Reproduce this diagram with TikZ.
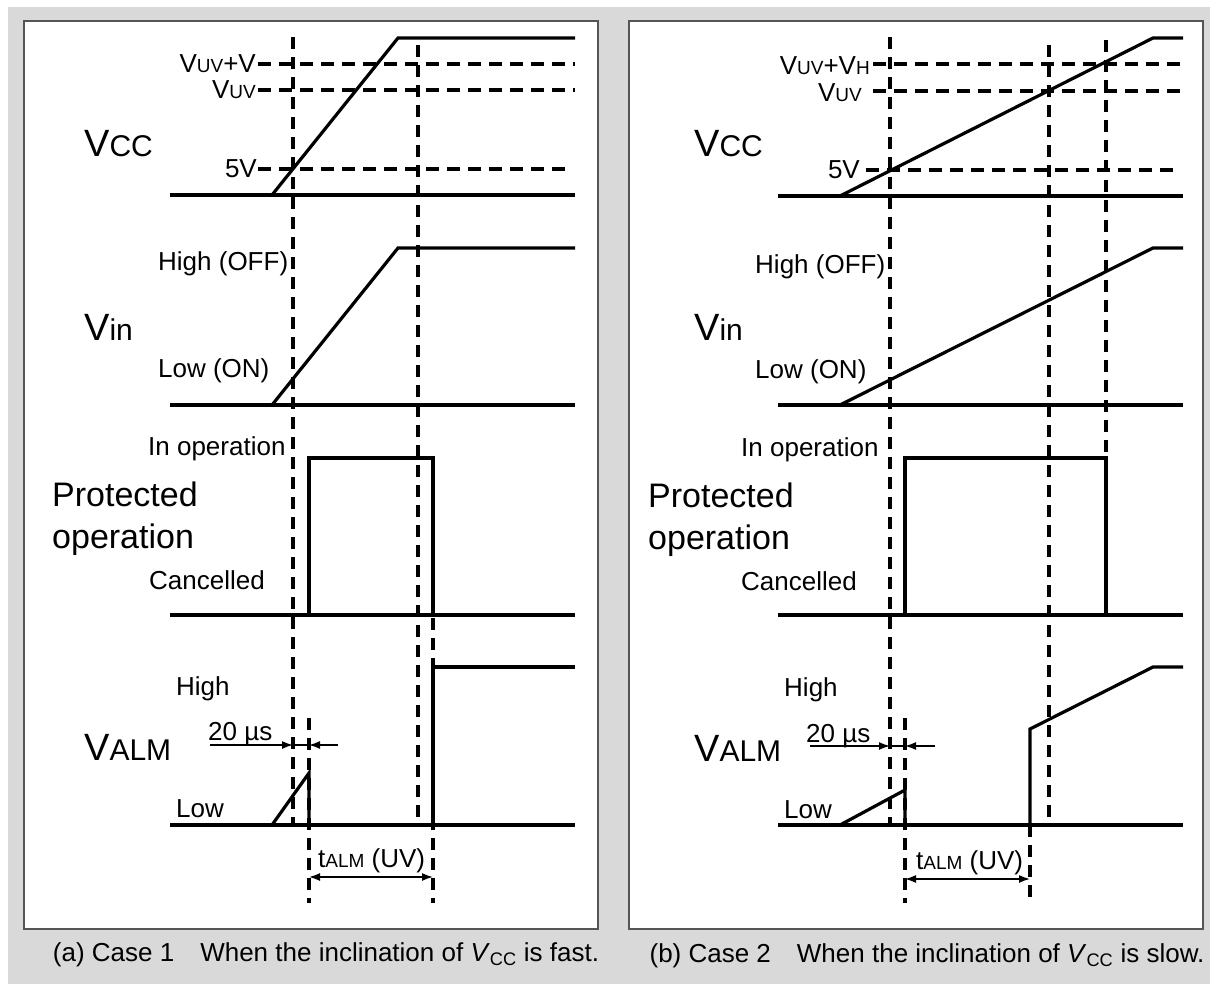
\documentclass[tikz,border=0pt]{standalone}
\usepackage{fontspec}
\setmainfont{Liberation Sans}
\usetikzlibrary{arrows.meta}
\definecolor{bggray}{HTML}{D9D9D9}
\definecolor{framegray}{HTML}{555555}
\newcommand{\smc}[1]{{\fontsize{19}{20}\selectfont #1}}
\newcommand{\bigV}{{\fontsize{38}{40}\selectfont V}}
\newcommand{\bigsm}[1]{{\fontsize{30}{32}\selectfont #1}}
\begin{document}
\begin{tikzpicture}[x=1pt,y=-1pt,
  sig/.style={line width=3.2pt},
  dv/.style={line width=3.8pt, dash pattern=on 12pt off 8pt},
  dh/.style={line width=3.2pt, dash pattern=on 13pt off 8pt},
  panel/.style={draw=framegray, line width=1.5pt, fill=white},
  lbl/.style={inner sep=0pt, font=\fontsize{26}{30}\selectfont},
  captext/.style={inner sep=0pt, font=\fontsize{26}{30}\selectfont},
  big/.style={inner sep=0pt, font=\fontsize{34}{40}\selectfont},
  arr/.style={line width=1.5pt, -{Latex[length=11pt,width=8pt]}},
  arrb/.style={line width=1.5pt, {Latex[length=11pt,width=8pt]}-{Latex[length=11pt,width=8pt]}},
  thin/.style={line width=1.5pt}]
\useasboundingbox (0,0) rectangle (1210,984);
\fill[bggray] (8,7) rectangle (1210,984);
\draw[panel] (24,21) rectangle (598,929);
\draw[panel] (629,21) rectangle (1203,929);

%%%%%%%%%%%%%%%% Panel (a)
% dashed horizontals
\draw[dh] (258,64) -- (575,64);
\draw[dh] (258,90) -- (575,90);
\draw[dh] (258,169) -- (565,169);
% dashed verticals
\draw[dv] (293,37) -- (293,825);
\draw[dv] (418,45) -- (418,825);
\draw[dv] (309,718) -- (309,903);
\draw[dv] (433,458) -- (433,903);
% Vcc
\draw[sig] (170,195) -- (575,195);
\draw[sig] (272,195) -- (398,38) -- (575,38);
% Vin
\draw[sig] (170,405) -- (575,405);
\draw[sig] (272,405) -- (398,248) -- (575,248);
% Protected operation
\draw[sig] (170,615) -- (575,615);
\draw[sig] (309,615) -- (309,458) -- (433,458) -- (433,615);
% VALM
\draw[sig] (170,825) -- (575,825);
\draw[sig] (272,825) -- (309,773) -- (309,825);
\draw[sig] (433,825) -- (433,667) -- (575,667);
% 20 us arrows
\coordinate (a20l) at (293,745);
\coordinate (a20r) at (309,745);
\draw[arr] (210,745) -- (a20l);
\draw[thin] (a20l) -- (a20r);
\draw[arr] (338,745) -- (a20r);
% tALM
\coordinate (atl) at (309,877);
\coordinate (atr) at (433,877);
\draw[arrb] (atl) -- (atr);
% labels
\node[lbl, anchor=base east] (a-vuvh) at (256,73) {V\smc{UV}+V};
\node[lbl, anchor=base east] (a-vuv) at (256,99) {V\smc{UV}};
\node[lbl, anchor=base east] (a-5v) at (257,178) {5V};
\node[big, anchor=base west] (a-vcc) at (84,157) {\bigV\bigsm{CC}};
\node[big, anchor=base west] (a-vin) at (84,340) {\bigV\bigsm{in}};
\node[lbl, anchor=base west] (a-hi) at (158,271) {High (OFF)};
\node[lbl, anchor=base west] (a-lo) at (158,377) {Low (ON)};
\node[lbl, anchor=base west] (a-io) at (148,455) {In operation};
\node[big, anchor=base west] (a-p1) at (52,506) {Protected};
\node[big, anchor=base west] (a-p2) at (52,548) {operation};
\node[lbl, anchor=base west] (a-ca) at (149,589) {Cancelled};
\node[lbl, anchor=base west] (a-ah) at (176,695) {High};
\node[big, anchor=base west] (a-valm) at (84,760) {\bigV\bigsm{ALM}};
\node[lbl, anchor=base west] (a-20) at (208,740) {20 µs};
\node[lbl, anchor=base west] (a-al) at (176,817) {Low};
\node[lbl, anchor=base west] (a-talm) at (318,867) {t\smc{ALM} (UV)};
\node[captext, anchor=base] (a-cap) at (326,961) {(a) Case 1\quad When the inclination of \textit{V}\textsubscript{CC} is fast.};

%%%%%%%%%%%%%%%% Panel (b)
\draw[dh] (873,64) -- (1183,64);
\draw[dh] (873,91) -- (1183,91);
\draw[dh] (866,170) -- (1173,170);
\draw[dv] (890,37) -- (890,825);
\draw[dv] (1049,45) -- (1049,825);
\draw[dv] (1106,40) -- (1106,458);
\draw[dv] (905,718) -- (905,903);
\draw[dv] (1030,825) -- (1030,903);
% Vcc
\draw[sig] (778,196) -- (1183,196);
\draw[sig] (840,196) -- (1153,38) -- (1183,38);
% Vin
\draw[sig] (778,405) -- (1183,405);
\draw[sig] (840,405) -- (1153,248) -- (1183,248);
% Protected
\draw[sig] (778,615) -- (1183,615);
\draw[sig] (905,615) -- (905,458) -- (1106,458) -- (1106,615);
% VALM
\draw[sig] (778,825) -- (1183,825);
\draw[sig] (840,825) -- (905,790) -- (905,825);
\draw[sig] (1030,825) -- (1030,729) -- (1153,667) -- (1183,667);
% 20 us
\coordinate (b20l) at (890,746);
\coordinate (b20r) at (905,746);
\draw[arr] (810,746) -- (b20l);
\draw[thin] (b20l) -- (b20r);
\draw[arr] (935,746) -- (b20r);
% tALM
\coordinate (btl) at (905,879);
\coordinate (btr) at (1030,879);
\draw[arrb] (btl) -- (btr);
% labels
\node[lbl, anchor=base east] (b-vuvh) at (870,75) {V\smc{UV}+V\smc{H}};
\node[lbl, anchor=base east] (b-vuv) at (862,102) {V\smc{UV}};
\node[lbl, anchor=base east] (b-5v) at (860,179) {5V};
\node[big, anchor=base west] (b-vcc) at (694,157) {\bigV\bigsm{CC}};
\node[big, anchor=base west] (b-vin) at (694,341) {\bigV\bigsm{in}};
\node[lbl, anchor=base west] (b-hi) at (755,274) {High (OFF)};
\node[lbl, anchor=base west] (b-lo) at (755,378) {Low (ON)};
\node[lbl, anchor=base west] (b-io) at (741,456) {In operation};
\node[big, anchor=base west] (b-p1) at (648,507) {Protected};
\node[big, anchor=base west] (b-p2) at (648,549) {operation};
\node[lbl, anchor=base west] (b-ca) at (741,590) {Cancelled};
\node[lbl, anchor=base west] (b-ah) at (784,696) {High};
\node[big, anchor=base west] (b-valm) at (694,761) {\bigV\bigsm{ALM}};
\node[lbl, anchor=base west] (b-20) at (806,742) {20 µs};
\node[lbl, anchor=base west] (b-al) at (784,818) {Low};
\node[lbl, anchor=base west] (b-talm) at (916,869) {t\smc{ALM} (UV)};
\node[captext, anchor=base] (b-cap) at (927,962) {(b) Case 2\quad When the inclination of \textit{V}\textsubscript{CC} is slow.};
\end{tikzpicture}
\end{document}
